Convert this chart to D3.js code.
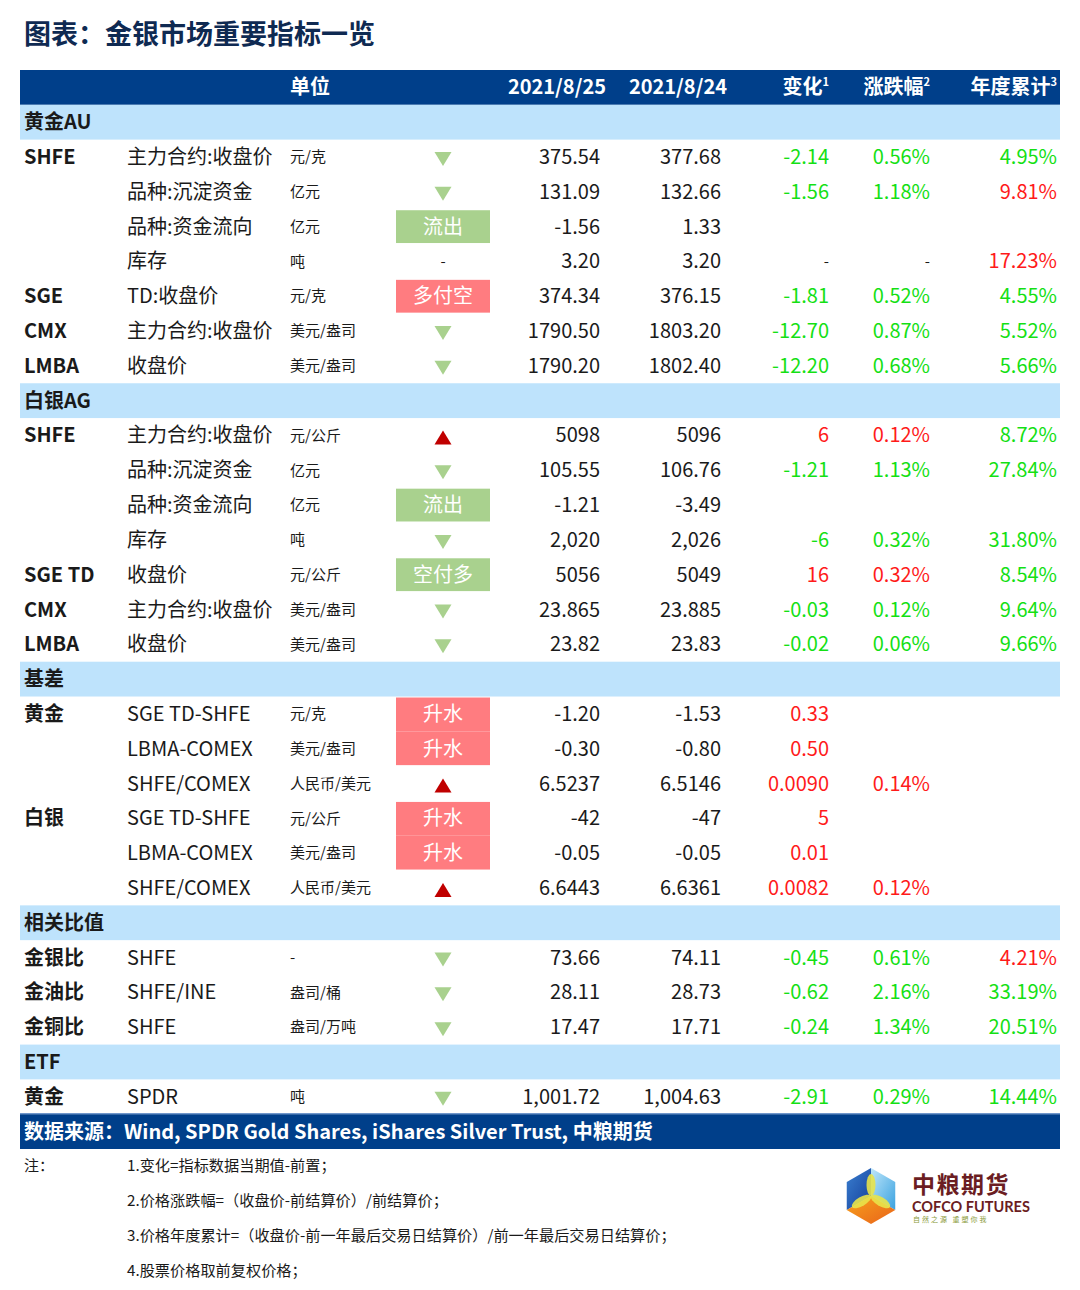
<!DOCTYPE html>
<html>
<head>
<meta charset="utf-8">
<script src="https://cdn.jsdelivr.net/npm/d3@7"></script>
<style>
  html, body { margin: 0; padding: 0; background: #fff; }
  svg { display: block; font-family: "Noto Sans CJK SC", "Noto Sans", sans-serif; }
</style>
</head>
<body>
<svg id="chart" width="1080" height="1290"></svg>
<script>
// ---------- DATA ----------
const title = "图表：金银市场重要指标一览";
const headerLabels = ["单位", "2021/8/25", "2021/8/24", "变化", "涨跌幅", "年度累计"];
const headerSup = ["", "", "", "1", "2", "3"];
const sectionNames = ["黄金AU", "白银AG", "基差", "相关比值", "ETF"];
const sectionSizes = [7, 7, 6, 3, 1];

const groupLabels = ["SHFE","","","","SGE","CMX","LMBA",
  "SHFE","","","","SGE TD","CMX","LMBA",
  "黄金","","","白银","","",
  "金银比","金油比","金铜比",
  "黄金"];
const itemNames = ["主力合约:收盘价","品种:沉淀资金","品种:资金流向","库存","TD:收盘价","主力合约:收盘价","收盘价",
  "主力合约:收盘价","品种:沉淀资金","品种:资金流向","库存","收盘价","主力合约:收盘价","收盘价",
  "SGE TD-SHFE","LBMA-COMEX","SHFE/COMEX","SGE TD-SHFE","LBMA-COMEX","SHFE/COMEX",
  "SHFE","SHFE/INE","SHFE",
  "SPDR"];
const units = ["元/克","亿元","亿元","吨","元/克","美元/盎司","美元/盎司",
  "元/公斤","亿元","亿元","吨","元/公斤","美元/盎司","美元/盎司",
  "元/克","美元/盎司","人民币/美元","元/公斤","美元/盎司","人民币/美元",
  "-","盎司/桶","盎司/万吨",
  "吨"];
const signals = ["down","down","流出","-","多付空","down","down",
  "up","down","流出","down","空付多","down","down",
  "升水","升水","up","升水","升水","up",
  "down","down","down",
  "down"];
const val25 = [375.54,131.09,-1.56,3.20,374.34,1790.50,1790.20,
  5098,105.55,-1.21,2020,5056,23.865,23.82,
  -1.20,-0.30,6.5237,-42,-0.05,6.6443,
  73.66,28.11,17.47,
  1001.72];
const val24 = [377.68,132.66,1.33,3.20,376.15,1803.20,1802.40,
  5096,106.76,-3.49,2026,5049,23.885,23.83,
  -1.53,-0.80,6.5146,-47,-0.05,6.6361,
  74.11,28.73,17.71,
  1004.63];
const valFmt = [".2f",".2f",".2f",".2f",".2f",".2f",".2f",
  ".0f",".2f",".2f",",.0f",".0f",".3f",".2f",
  ".2f",".2f",".4f",".0f",".2f",".4f",
  ".2f",".2f",".2f",
  ",.2f"];
// null = blank, NaN = "-"
const changes = [-2.14,-1.56,null,NaN,-1.81,-12.70,-12.20,
  6,-1.21,null,-6,16,-0.03,-0.02,
  0.33,0.50,0.0090,5,0.01,0.0082,
  -0.45,-0.62,-0.24,
  -2.91];
const changeFmt = [".2f",".2f",".2f",".2f",".2f",".2f",".2f",
  ".0f",".2f",".2f",".0f",".0f",".2f",".2f",
  ".2f",".2f",".4f",".0f",".2f",".4f",
  ".2f",".2f",".2f",
  ".2f"];
// signed percentages (shown as absolute value, colour = sign)
const pctChange = [-0.56,-1.18,null,NaN,-0.52,-0.87,-0.68,
  0.12,-1.13,null,-0.32,0.32,-0.12,-0.06,
  null,null,0.14,null,null,0.12,
  -0.61,-2.16,-1.34,
  -0.29];
const ytd = [-4.95,9.81,null,17.23,-4.55,-5.52,-5.66,
  -8.72,-27.84,null,-31.80,-8.54,-9.64,-9.66,
  null,null,null,null,null,null,
  4.21,-33.19,-20.51,
  -14.44];
const sourceText = "数据来源：Wind, SPDR Gold Shares, iShares Silver Trust, 中粮期货";
const noteLabel = "注：";
const notes = ["1.变化=指标数据当期值-前置；",
  "2.价格涨跌幅=（收盘价-前结算价）/前结算价；",
  "3.价格年度累计=（收盘价-前一年最后交易日结算价）/前一年最后交易日结算价；",
  "4.股票价格取前复权价格；"];

// ---------- STYLE ----------
const C = {
  navy: "#003f8a", band: "#bee3fc", title: "#0f2a52", text: "#1a1a1a",
  up: "#ff1a1a", down: "#14e014", triGreen: "#a9d18e", triRed: "#c00000",
  boxGreen: "#a9d18e", boxRed: "#ff7c80"
};
const boxColor = { "流出": C.boxGreen, "空付多": C.boxGreen, "多付空": C.boxRed, "升水": C.boxRed };

const locale = d3.formatLocale({ decimal: ".", thousands: ",", grouping: [3], currency: ["", ""], minus: "-" });

// ---------- BUILD ROWS ----------
const rows = [{ type: "header" }];
let k = 0;
sectionNames.forEach((s, si) => {
  rows.push({ type: "section", name: s });
  for (let j = 0; j < sectionSizes[si]; j++, k++) rows.push({ type: "data", i: k });
});
rows.push({ type: "source" });

const svg = d3.select("#chart");
const y = d3.scaleBand().domain(d3.range(rows.length)).range([70, 1149]).padding(0);
const colX = d3.scaleOrdinal()
  .domain(["group","item","unit","signal","v25","v24","chg","pct","ytd"])
  .range([24, 127, 290, 443, 600, 721, 829, 930, 1057]);
const left = 20, right = 1060;
const cy = r => y(r) + y.bandwidth() / 2;

// title
svg.append("text").attr("x", 24).attr("y", 44)
  .attr("font-size", 27).attr("font-weight", 700).attr("fill", C.title)
  .text(title);

// backgrounds
rows.forEach((r, ri) => {
  if (r.type === "header" || r.type === "source") {
    svg.append("rect").attr("x", left).attr("y", y(ri)).attr("width", right - left)
      .attr("height", y.bandwidth()).attr("fill", C.navy);
  } else if (r.type === "section") {
    svg.append("rect").attr("x", left).attr("y", y(ri)).attr("width", right - left)
      .attr("height", y.bandwidth()).attr("fill", C.band);
  }
});

// header text
const hcols = ["unit","v25","v24","chg","pct","ytd"];
headerLabels.forEach((h, hi) => {
  const t = svg.append("text")
    .attr("x", hcols[hi] === "unit" ? colX("unit") : colX(hcols[hi]) + (hi <= 2 ? 6 : 0))
    .attr("y", cy(0)).attr("dy", "0.35em")
    .attr("text-anchor", hcols[hi] === "unit" ? "start" : "end")
    .attr("font-size", 20).attr("font-weight", 700).attr("fill", "#fff");
  t.append("tspan").text(h);
  if (headerSup[hi]) t.append("tspan").attr("font-size", 11).attr("dy", "-0.75em").text(headerSup[hi]);
});

const num = (v, f) => locale.format(f)(v);
const signColor = v => v > 0 ? C.up : C.down;

rows.forEach((r, ri) => {
  const c = cy(ri);
  if (r.type === "section") {
    svg.append("text").attr("x", colX("group")).attr("y", c).attr("dy", "0.35em")
      .attr("font-size", 20).attr("font-weight", 700).attr("fill", C.text).text(r.name);
    return;
  }
  if (r.type !== "data") return;
  const i = r.i;
  const g = svg.append("g");
  if (groupLabels[i]) g.append("text").attr("x", colX("group")).attr("y", c).attr("dy", "0.35em")
    .attr("font-size", 20).attr("font-weight", 700).attr("fill", C.text).text(groupLabels[i]);
  g.append("text").attr("x", colX("item")).attr("y", c).attr("dy", "0.35em")
    .attr("font-size", 20).attr("fill", C.text).text(itemNames[i]);
  g.append("text").attr("x", colX("unit")).attr("y", c).attr("dy", "0.35em")
    .attr("font-size", 15).attr("fill", C.text).text(units[i]);

  // signal
  const sx = colX("signal");
  const s = signals[i];
  if (s === "down") {
    g.append("path").attr("d", `M${sx-8.5},${c-5}L${sx+8.5},${c-5}L${sx},${c+9}Z`).attr("fill", C.triGreen);
  } else if (s === "up") {
    g.append("path").attr("d", `M${sx},${c-5}L${sx+8.5},${c+9}L${sx-8.5},${c+9}Z`).attr("fill", C.triRed);
  } else if (s === "-") {
    g.append("text").attr("x", sx).attr("y", c).attr("dy", "0.35em").attr("text-anchor", "middle")
      .attr("font-size", 15).attr("fill", C.text).text("-");
  } else {
    const prevSame = i > 0 && signals[i-1] === s && rows[ri-1].type === "data";
    const nextSame = i < signals.length - 1 && signals[i+1] === s && rows[ri+1].type === "data";
    const top = y(ri) + (prevSame ? 0 : 1);
    const bot = y(ri) + y.bandwidth() - (nextSame ? 0 : 1);
    g.append("rect").attr("x", sx - 47).attr("y", top).attr("width", 94).attr("height", bot - top)
      .attr("fill", boxColor[s]);
    g.append("text").attr("x", sx).attr("y", c).attr("dy", "0.35em").attr("text-anchor", "middle")
      .attr("font-size", 20).attr("fill", "#fff").text(s);
  }

  g.append("text").attr("x", colX("v25")).attr("y", c).attr("dy", "0.35em").attr("text-anchor", "end")
    .attr("font-size", 20).attr("fill", C.text).text(num(val25[i], valFmt[i]));
  g.append("text").attr("x", colX("v24")).attr("y", c).attr("dy", "0.35em").attr("text-anchor", "end")
    .attr("font-size", 20).attr("fill", C.text).text(num(val24[i], valFmt[i]));

  const ch = changes[i];
  if (ch !== null) {
    g.append("text").attr("x", colX("chg")).attr("y", c).attr("dy", "0.35em").attr("text-anchor", "end")
      .attr("font-size", Number.isNaN(ch) ? 15 : 20)
      .attr("fill", Number.isNaN(ch) ? C.text : signColor(ch))
      .text(Number.isNaN(ch) ? "-" : num(ch, changeFmt[i]));
  }
  const p = pctChange[i];
  if (p !== null) {
    g.append("text").attr("x", colX("pct")).attr("y", c).attr("dy", "0.35em").attr("text-anchor", "end")
      .attr("font-size", Number.isNaN(p) ? 15 : 20)
      .attr("fill", Number.isNaN(p) ? C.text : signColor(p))
      .text(Number.isNaN(p) ? "-" : num(Math.abs(p), ".2f") + "%");
  }
  const yt = ytd[i];
  if (yt !== null) {
    g.append("text").attr("x", colX("ytd")).attr("y", c).attr("dy", "0.35em").attr("text-anchor", "end")
      .attr("font-size", 20).attr("fill", signColor(yt))
      .text(num(Math.abs(yt), ".2f") + "%");
  }
});

// bottom line under data
svg.append("line").attr("x1", left).attr("x2", right)
  .attr("y1", y(rows.length - 1) - 0.5).attr("y2", y(rows.length - 1) - 0.5)
  .attr("stroke", "#4f7fc0").attr("stroke-width", 1);

// source
svg.append("text").attr("x", 24).attr("y", cy(rows.length - 1)).attr("dy", "0.35em")
  .attr("font-size", 20).attr("font-weight", 700).attr("fill", "#fff").text(sourceText);

// notes
const noteY = d3.scalePoint().domain(d3.range(notes.length)).range([1166, 1271]);
svg.append("text").attr("x", 24).attr("y", noteY(0)).attr("dy", "0.35em")
  .attr("font-size", 15).attr("fill", C.text).text(noteLabel);
notes.forEach((n, ni) => {
  svg.append("text").attr("x", 127).attr("y", noteY(ni)).attr("dy", "0.35em")
    .attr("font-size", 15.2).attr("fill", C.text).text(n);
});

// logo
const lg = svg.append("g").attr("transform", "translate(871,1196)");
const R = 28;
const hv = d3.range(6).map(a => {
  const ang = -Math.PI / 2 + a * Math.PI / 3;
  return [R * Math.cos(ang), R * Math.sin(ang)];
}); // 0 top,1 upper-right,2 lower-right,3 bottom,4 lower-left,5 upper-left
const defs = svg.append("defs");
const grad = (id, c1, c2) => {
  const gr = defs.append("linearGradient").attr("id", id).attr("x1", 0).attr("y1", 0).attr("x2", 1).attr("y2", 1);
  gr.append("stop").attr("offset", 0).attr("stop-color", c1);
  gr.append("stop").attr("offset", 1).attr("stop-color", c2);
};
grad("gL", "#3a7fd0", "#143f9a");
grad("gR", "#bfe6fa", "#3aa2e0");
grad("gB", "#f7a21c", "#e9631a");
const poly = pts => "M" + pts.map(p => p.join(",")).join("L") + "Z";
lg.append("path").attr("d", poly([[0,0], hv[4], hv[5], hv[0]])).attr("fill", "url(#gL)");
lg.append("path").attr("d", poly([[0,0], hv[0], hv[1], hv[2]])).attr("fill", "url(#gR)");
lg.append("path").attr("d", poly([[0,0], hv[2], hv[3], hv[4]])).attr("fill", "url(#gB)");
// petals
[hv[0], hv[2], hv[4]].forEach(v => {
  const ang = Math.atan2(v[1], v[0]) * 180 / Math.PI;
  lg.append("ellipse").attr("cx", 0).attr("cy", 0).attr("rx", 11).attr("ry", 4.5)
    .attr("transform", `rotate(${ang}) translate(11,0)`)
    .attr("fill", "#e8e34a").attr("opacity", 0.9);
});
svg.append("text").attr("x", 912).attr("y", 1193).attr("font-size", 23).attr("font-weight", 700)
  .attr("fill", "#6b1d22").attr("letter-spacing", 1.5).text("中粮期货");
svg.append("text").attr("x", 912).attr("y", 1212).attr("font-size", 14.5).attr("font-weight", 700)
  .attr("fill", "#6b1d22").attr("font-family", "Lato, 'Open Sans', sans-serif").text("COFCO FUTURES");
svg.append("text").attr("x", 913).attr("y", 1222).attr("font-size", 7).attr("fill", "#8a9a3a")
  .attr("letter-spacing", 2).text("自然之源  重塑你我");
</script>
</body>
</html>
